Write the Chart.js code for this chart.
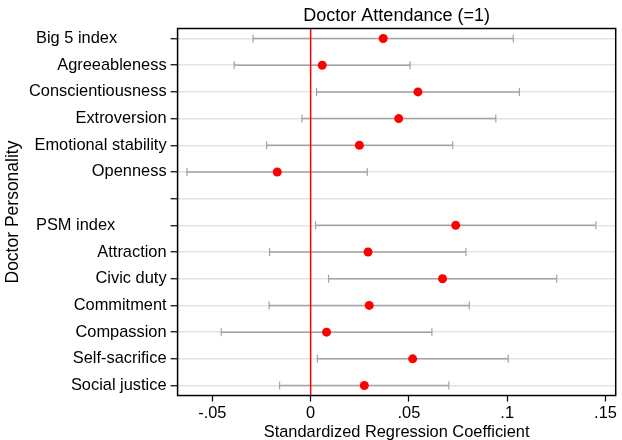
<!DOCTYPE html>
<html>
<head>
<meta charset="utf-8">
<script src="https://cdn.jsdelivr.net/npm/chart.js@4/dist/chart.umd.min.js"></script>
<style>
html, body { margin: 0; padding: 0; background: #fff; }
#wrap { width: 622px; height: 440px; }
</style>
</head>
<body>
<div id="wrap"><canvas id="coefChart"></canvas></div>
<script>
const rowLabels = ["Big 5 index", "Agreeableness", "Conscientiousness", "Extroversion",
  "Emotional stability", "Openness", "", "PSM index", "Attraction", "Civic duty",
  "Commitment", "Compassion", "Self-sacrifice", "Social justice"];
const headerRows = [0, 7];
const coef  = [0.0369, 0.0059, 0.0546, 0.0448, 0.0248, -0.0170, null, 0.0738, 0.0292, 0.0671, 0.0298, 0.0081, 0.0519, 0.0273];
const lower = [-0.0293, -0.0389, 0.0030, -0.0044, -0.0224, -0.0629, null, 0.0025, -0.0209, 0.0091, -0.0211, -0.0455, 0.0034, -0.0158];
const upper = [0.1031, 0.0506, 0.1062, 0.0942, 0.0723, 0.0288, null, 0.1451, 0.0790, 0.1252, 0.0807, 0.0617, 0.1005, 0.0703];
const xTicks = [-0.05, 0, 0.05, 0.1, 0.15];
const xTickLabels = ["-.05", "0", ".05", ".1", ".15"];
const chartTitle = "Doctor Attendance (=1)";

const font = "'Liberation Sans', Arial, Helvetica, sans-serif";
const yMin = -0.375, yMax = rowLabels.length - 1 + 0.375;

const datasets = [];
// points on top
datasets.push({
  data: coef.map((v, i) => v === null ? null : { x: v, y: i }).filter(d => d),
  pointRadius: 4.5,
  pointBackgroundColor: "#ff0000",
  pointBorderWidth: 0,
  showLine: false
});
// zero reference line
datasets.push({
  data: [{ x: 0, y: yMin }, { x: 0, y: yMax }],
  showLine: true,
  borderColor: "#ff0000",
  borderWidth: 1.5,
  pointRadius: 0
});
// error bars
rowLabels.forEach((lab, i) => {
  if (lower[i] === null) return;
  datasets.push({
    data: [{ x: lower[i], y: i }, { x: upper[i], y: i }],
    showLine: true,
    borderColor: "#a3a3a3",
    borderWidth: 1.5,
    pointStyle: "line",
    rotation: 90,
    pointRadius: 4,
    pointBorderColor: "#a3a3a3",
    pointBorderWidth: 1.2
  });
});

const framePlugin = {
  id: "frame",
  afterDraw(chart) {
    const { ctx, chartArea: a, scales } = chart;
    ctx.save();
    ctx.strokeStyle = "#000";
    ctx.lineWidth = 1.5;
    ctx.strokeRect(a.left, a.top, a.right - a.left, a.bottom - a.top);
    ctx.fillStyle = "#000";
    ctx.textBaseline = "middle";
    ctx.font = "16.4px " + font;
    ctx.textAlign = "left";
    headerRows.forEach(i => {
      ctx.fillText(rowLabels[i], 36, scales.y.getPixelForValue(i));
    });
    ctx.font = "18px " + font;
    ctx.textAlign = "center";
    ctx.fillText(chartTitle, (a.left + a.right) / 2, 16);
    ctx.restore();
  }
};

new Chart(document.getElementById("coefChart"), {
  type: "scatter",
  data: { datasets },
  plugins: [framePlugin],
  options: {
    responsive: true,
    maintainAspectRatio: false,
    animation: false,
    layout: { padding: { left: 0, right: 4, top: 28.5, bottom: 0 } },
    plugins: {
      legend: { display: false },
      tooltip: { enabled: false },
      title: { display: false }
    },
    scales: {
      x: {
        type: "linear",
        min: -0.0677,
        max: 0.1552,
        afterBuildTicks: axis => { axis.ticks = xTicks.map(v => ({ value: v })); },
        ticks: {
          color: "#000",
          font: { family: font, size: 16.4, lineHeight: 0.8 },
          padding: 5,
          maxRotation: 0,
          callback: (v) => xTickLabels[xTicks.indexOf(v)]
        },
        grid: { drawOnChartArea: false, drawTicks: true, tickLength: 6, tickColor: "#000", tickWidth: 1.2 },
        border: { display: false },
        title: {
          display: true,
          text: "Standardized Regression Coefficient",
          color: "#000",
          font: { family: font, size: 16.4, lineHeight: 0.9 },
          padding: { top: 0, bottom: 0.6 }
        }
      },
      y: {
        type: "linear",
        reverse: true,
        min: yMin,
        max: yMax,
        afterBuildTicks: axis => { axis.ticks = rowLabels.map((_, i) => ({ value: i })); },
        ticks: {
          color: "#000",
          font: { family: font, size: 16.4 },
          padding: 4,
          autoSkip: false,
          callback: (v) => headerRows.includes(v) ? "" : rowLabels[v]
        },
        grid: { color: "#e3e3e3", lineWidth: 1.5, tickLength: 7, tickColor: "#000", tickWidth: 1.2 },
        border: { display: false },
        title: {
          display: true,
          text: "Doctor Personality",
          color: "#000",
          font: { family: font, size: 17.5 },
          padding: { top: 3, bottom: 1 }
        }
      }
    }
  }
});
</script>
</body>
</html>
